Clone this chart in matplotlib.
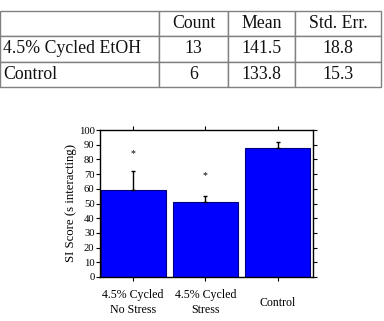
import matplotlib
matplotlib.use("Agg")
from matplotlib import pyplot as plt

plt.rcParams['font.family'] = ['Liberation Serif', 'DejaVu Serif']

# table data
col_labels = ["", "Count", "Mean", "Std. Err."]
row_labels = ["4.5% Cycled EtOH", "Control"]
counts = [13, 6]
means = [141.5, 133.8]
std_errs = [18.8, 15.3]

# bar chart data
groups = ["4.5% Cycled\nNo Stress", "4.5% Cycled\nStress", "Control"]
scores = [59, 51, 88]
score_err = [13, 3.8, 3.5]
stars = [84, 69, None]

fig = plt.figure(figsize=(3.84, 3.21), dpi=100)

#table on top
tax = fig.add_axes([0.0, 0.729, 381 / 384, 0.237])
tax.axis('off')
cells = [col_labels]
for name, c, m, s in zip(row_labels, counts, means, std_errs):
    cells.append([name, str(c), "%.1f" % m, "%.1f" % s])
tbl = tax.table(cellText=cells, bbox=[0, 0, 1, 1],
                colWidths=[159, 69, 67, 86])
tbl.auto_set_font_size(False)
for (r, c), cell in tbl.get_celld().items():
    cell.set_edgecolor('#808080')
    cell.set_linewidth(1.0)
    cell.set_text_props(fontsize=12.8, color='#111111')
    if c == 0:
        cell.set_text_props(ha='left')
        cell.PAD = 0.02
    else:
        cell.set_text_props(ha='center')

#bar chart
ax = fig.add_axes([100 / 384, 44 / 321, 213 / 384, 147 / 321])
pos = list(range(len(groups)))
ax.bar(pos, scores, width=0.9, color='#0000ff', edgecolor='#00007a', linewidth=0.8)
ax.errorbar(pos, scores, yerr=[[0] * len(scores), score_err], fmt='none',
            ecolor='black', elinewidth=1.0, capsize=1.5, capthick=1.0)
for p, s in zip(pos, stars):
    if s is not None:
        ax.text(p, s, "*", ha='center', va='center', fontsize=7)

ax.set_xlim(-0.457, 2.49)
ax.set_ylim(0, 100)
ax.set_yticks(range(0, 101, 10))
ax.set_xticks(pos)
ax.set_xticklabels(groups, fontsize=8.6, va='center', linespacing=1.3)
ax.tick_params(axis='y', labelsize=7.7, direction='out', length=3, width=0.8,
               right=True, pad=1)
ax.tick_params(axis='x', direction='out', length=3, width=0.8, top=True, pad=15.5)
ax.set_ylabel("SI Score (s interacting)", fontsize=9.2, labelpad=1)
for sp in ax.spines.values():
    sp.set_linewidth(1.0)

plt.savefig("out.png", dpi=100)
